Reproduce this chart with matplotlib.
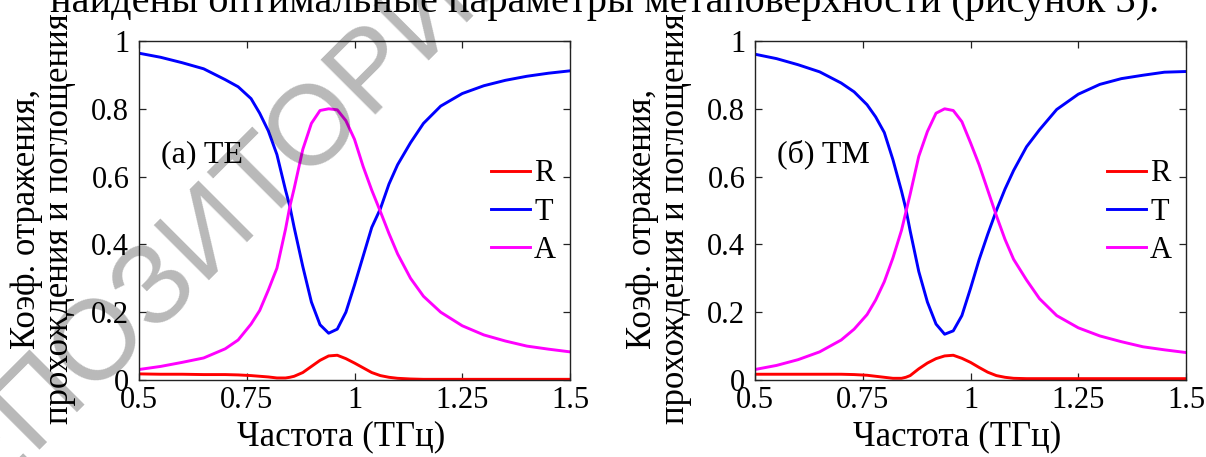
import matplotlib
matplotlib.use("Agg")
import matplotlib.pyplot as plt

# ── Data ──────────────────────────────────────────────────────────────────────
freq = [0.50, 0.55, 0.60, 0.65, 0.70, 0.73, 0.76, 0.78, 0.80, 0.82, 0.84, 0.85,
        0.86, 0.88, 0.90, 0.92, 0.94, 0.96, 0.98, 1.00, 1.02, 1.04, 1.06, 1.08,
        1.10, 1.13, 1.16, 1.20, 1.25, 1.30, 1.35, 1.40, 1.45, 1.50]

r_te = [0.018, 0.017, 0.017, 0.016, 0.016, 0.015, 0.013, 0.011, 0.009, 0.006,
        0.006, 0.008, 0.011, 0.022, 0.040, 0.058, 0.071, 0.073, 0.063, 0.050,
        0.036, 0.022, 0.013, 0.008, 0.005, 0.003, 0.002, 0.002, 0.002, 0.002,
        0.002, 0.002, 0.002, 0.002]
t_te = [0.964, 0.952, 0.936, 0.918, 0.886, 0.865, 0.830, 0.787, 0.735, 0.665,
        0.560, 0.512, 0.450, 0.335, 0.230, 0.163, 0.138, 0.150, 0.200, 0.280,
        0.365, 0.450, 0.505, 0.578, 0.635, 0.700, 0.757, 0.808, 0.845, 0.868,
        0.884, 0.896, 0.905, 0.912]
a_te = [0.031, 0.040, 0.052, 0.065, 0.092, 0.118, 0.165, 0.205, 0.265, 0.330,
        0.445, 0.512, 0.565, 0.680, 0.757, 0.795, 0.800, 0.797, 0.765, 0.710,
        0.630, 0.560, 0.497, 0.432, 0.372, 0.300, 0.247, 0.200, 0.160, 0.133,
        0.115, 0.100, 0.091, 0.083]

r_tm = [0.017, 0.017, 0.017, 0.017, 0.017, 0.016, 0.014, 0.011, 0.008, 0.005,
        0.005, 0.008, 0.013, 0.033, 0.050, 0.063, 0.071, 0.073, 0.064, 0.052,
        0.037, 0.023, 0.013, 0.008, 0.005, 0.004, 0.004, 0.004, 0.004, 0.004,
        0.004, 0.004, 0.004, 0.004]
t_tm = [0.961, 0.948, 0.930, 0.909, 0.876, 0.850, 0.812, 0.776, 0.730, 0.650,
        0.557, 0.505, 0.440, 0.320, 0.230, 0.165, 0.135, 0.145, 0.190, 0.270,
        0.355, 0.430, 0.500, 0.563, 0.618, 0.688, 0.738, 0.798, 0.843, 0.872,
        0.889, 0.899, 0.908, 0.910]
a_tm = [0.031, 0.043, 0.060, 0.083, 0.118, 0.150, 0.193, 0.236, 0.290, 0.360,
        0.442, 0.495, 0.548, 0.660, 0.733, 0.787, 0.800, 0.795, 0.762, 0.700,
        0.635, 0.560, 0.485, 0.415, 0.356, 0.295, 0.240, 0.190, 0.154, 0.130,
        0.113, 0.098, 0.089, 0.081]

x_ticks = [0.5, 0.75, 1, 1.25, 1.5]
x_ticklabels = ["0.5", "0.75", "1", "1.25", "1.5"]
y_ticks = [0, 0.2, 0.4, 0.6, 0.8, 1]
y_ticklabels = ["0", "0.2", "0.4", "0.6", "0.8", "1"]

series_names = ["R", "T", "A"]
series_colors = ["#ff0000", "#0000ff", "#ff00ff"]
panel_tags = ["(а) TE", "(б) TM"]
ylabel_text = "Коэф. отражения,\nпрохождения и поглощения"
xlabel_text = "Частота (ТГц)"
caption_text = "найдены оптимальные параметры метаповерхности (рисунок 3)."
watermark_text = "РЕПОЗИТОРИЙ"

# ── Figure ───────────────────────────────────────────────────────────────────
plt.rcParams["font.family"] = ["Liberation Serif", "DejaVu Serif"]

fig = plt.figure(figsize=(12.06, 4.57), dpi=100)

ax_w, ax_h, ax_b = 431 / 1206, 339 / 457, 1 - 380 / 457
axes = [fig.add_axes([139 / 1206, ax_b, ax_w, ax_h]),
        fig.add_axes([755 / 1206, ax_b, ax_w, ax_h])]

panels = [(r_te, t_te, a_te), (r_tm, t_tm, a_tm)]

for ax, (r, t, a), tag in zip(axes, panels, panel_tags):
    ax.set_facecolor("none")
    for vals, name, col in zip((r, t, a), series_names, series_colors):
        ax.plot(freq, vals, color=col, lw=2.1, label=name)

    ax.set_xlim(0.5, 1.5)
    ax.set_ylim(0, 1)
    ax.set_xticks(x_ticks)
    ax.set_xticklabels(x_ticklabels)
    ax.set_yticks(y_ticks)
    ax.set_yticklabels(y_ticklabels)
    ax.tick_params(direction="in", length=5, width=0.9, top=True, right=True,
                   labelsize=22, color="#222222")
    ax.tick_params(axis="x", pad=4)
    ax.tick_params(axis="y", pad=7)
    for sp in ax.spines.values():
        sp.set_linewidth(1.0)
        sp.set_color("#222222")

    ax.text(0.05, 0.665, tag, transform=ax.transAxes, fontsize=23,
            ha="left", va="center")

    ax.text(-0.222, 0.475, ylabel_text, transform=ax.transAxes, fontsize=25,
            rotation=90, ha="center", va="center", multialignment="center",
            linespacing=1.0)
    ax.text(0.47, -0.168, xlabel_text, transform=ax.transAxes, fontsize=25,
            ha="center", va="center")

    ax.legend(loc="center right", bbox_to_anchor=(0.968, 0.495), frameon=False,
              fontsize=22, handlelength=1.27, handletextpad=0.15,
              labelspacing=0.31, borderpad=0, borderaxespad=0)

# document text cut off at the top of the scan
fig.text(50 / 1206, 1 - 12 / 457, caption_text, fontsize=29,
         ha="left", va="baseline")

# diagonal repository watermark
fig.text(210 / 1206, 1 - 230 / 457, watermark_text, fontsize=82,
         family=["Liberation Sans", "DejaVu Sans"], color="black", alpha=0.28,
         rotation=45, rotation_mode="anchor", ha="center", va="center",
         zorder=10)

fig.savefig("out.png", dpi=100)
